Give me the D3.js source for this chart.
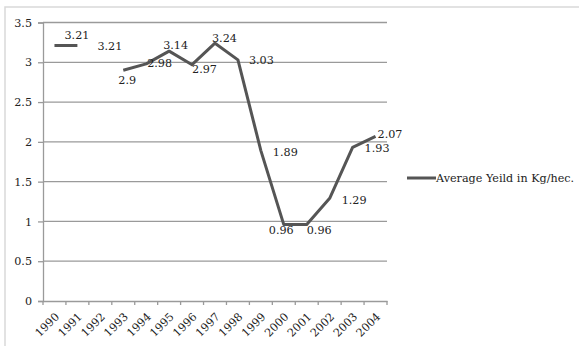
<!DOCTYPE html>
<html><head><meta charset="utf-8">
<script src="https://cdn.jsdelivr.net/npm/d3@7"></script>
<style>body{margin:0;background:#fff}svg{display:block}svg text{font-family:"DejaVu Serif",serif !important;fill:#222}</style>
</head><body>
<svg id="c" width="579" height="346"></svg>
<script>
const years = ["1990","1991","1992","1993","1994","1995","1996","1997","1998","1999","2000","2001","2002","2003","2004"];
const yieldValues = [3.21,3.21,null,2.9,2.98,3.14,2.97,3.24,3.03,1.89,0.96,0.96,1.29,1.93,2.07];
const pointLabels = ["3.21","3.21","","2.9","2.98","3.14","2.97","3.24","3.03","1.89","0.96","0.96","1.29","1.93","2.07"];
const yTicks = [0,0.5,1,1.5,2,2.5,3,3.5];
const seriesName = "Average Yeild in Kg/hec.";
// label offsets from point (text start, vertical middle)
const labelDx = [10,20,0,-5,1,-6,0,-3,11,12,-15,0,12,12,2];
const labelDy = [-10,1,0,10,0,-6,5,-5,1,2,6,6,2,1,-2];

const svg = d3.select("#c");
const L = 43, R = 387, T = 22.5, B = 301;
const x = d3.scaleBand().domain(years).range([L, R]);
const y = d3.scaleLinear().domain([0, 3.5]).range([B, T]);
const FS = 11.2;

// outer frame
svg.append("rect").attr("x",5).attr("y",7).attr("width",600).attr("height",400)
  .attr("fill","none").attr("stroke","#d9d9d9").attr("stroke-width",1.5);

// gridlines
svg.append("g").selectAll("line").data(yTicks.filter(d=>d>0)).join("line")
  .attr("x1",L).attr("x2",R).attr("y1",d=>y(d)).attr("y2",d=>y(d))
  .attr("stroke","#9a9a9a").attr("stroke-width",1.3);

// y axis
const ya = svg.append("g").attr("transform",`translate(${L},0)`)
  .call(d3.axisLeft(y).tickValues(yTicks).tickSize(5).tickPadding(6).tickFormat(d3.format("")));
ya.attr("font-family",null);
ya.select(".domain").attr("stroke","#9a9a9a").attr("stroke-width",1.3);
ya.selectAll(".tick line").attr("stroke","#9a9a9a").attr("stroke-width",1.3);
ya.selectAll("text").attr("font-size",FS).attr("fill","#222");

// x axis
const xa = svg.append("g").attr("transform",`translate(0,${B})`)
  .call(d3.axisBottom(x).tickSize(0).tickFormat(""));
xa.attr("font-family",null);
xa.select(".domain").attr("stroke","#9a9a9a").attr("stroke-width",1.3);
const bounds = years.map(d=>x(d)).concat([R]);
xa.append("g").selectAll("line").data(bounds).join("line")
  .attr("x1",d=>d).attr("x2",d=>d).attr("y1",0).attr("y2",4)
  .attr("stroke","#9a9a9a").attr("stroke-width",1.3);
xa.append("g").selectAll("text").data(years).join("text")
  .attr("transform",d=>`translate(${x(d)+x.bandwidth()/2+3},${14}) rotate(-45)`)
  .attr("text-anchor","end").attr("dominant-baseline","central")
  .attr("font-size",FS).text(d=>d);

// line
const pts = years.map((d,i)=>({year:d, v:yieldValues[i], i}));
const line = d3.line().defined(d=>d.v!==null)
  .x(d=>x(d.year)+x.bandwidth()/2).y(d=>y(d.v));
svg.append("path").datum(pts).attr("d",line)
  .attr("fill","none").attr("stroke","#555").attr("stroke-width",3).attr("stroke-linejoin","round");

// labels
const labVal = years.map((d,i)=>yieldValues[i]!==null?yieldValues[i]:3.21);
svg.append("g").selectAll("text").data(pts.filter(d=>pointLabels[d.i]!=="")).join("text")
  .attr("x",d=>x(d.year)+x.bandwidth()/2+labelDx[d.i])
  .attr("y",d=>y(labVal[d.i])+labelDy[d.i])
  .attr("dominant-baseline","central").attr("font-size",FS)
  .text(d=>pointLabels[d.i]);

// legend
svg.append("line").attr("x1",407).attr("x2",436).attr("y1",178).attr("y2",178)
  .attr("stroke","#555").attr("stroke-width",3);
svg.append("text").attr("x",436).attr("y",178).attr("dominant-baseline","central")
  .attr("font-size",FS).text(seriesName);
</script>
</body></html>
